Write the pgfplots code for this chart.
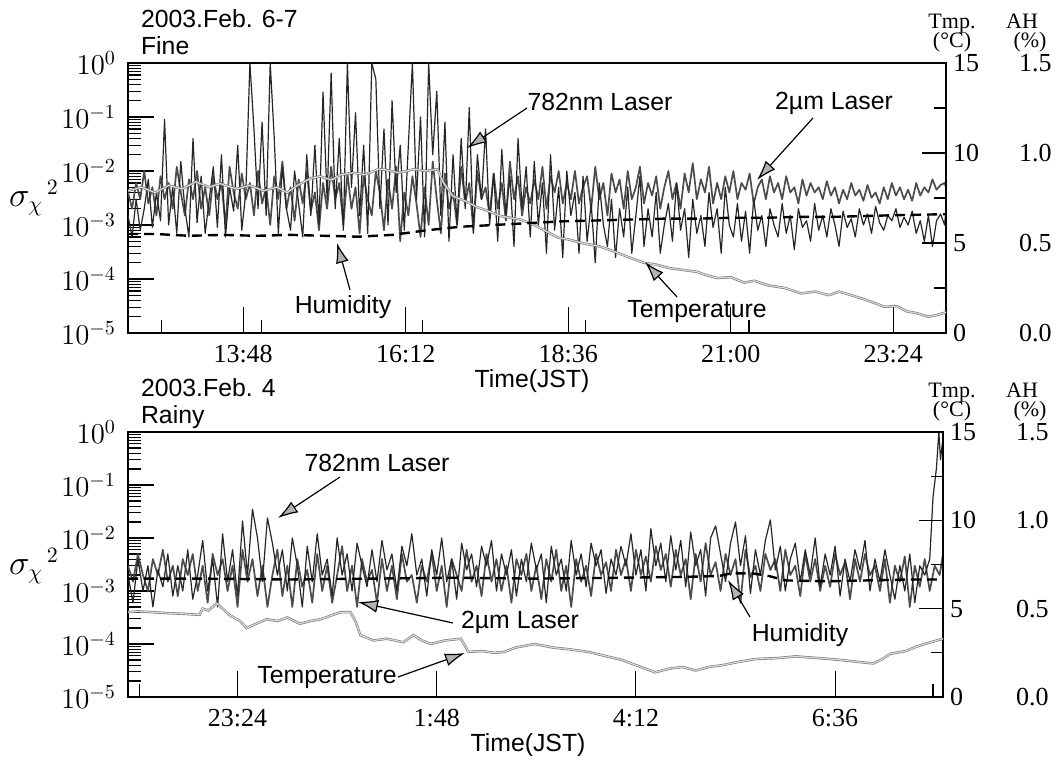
\documentclass[border=0pt]{standalone}
\usepackage{fontspec}
\setmainfont{Liberation Sans}
\newfontfamily\serif{Liberation Serif}
\usepackage{pgfplots}
\pgfplotsset{compat=1.18}
\usetikzlibrary{arrows.meta}

\tikzset{
 lasera/.style={black!85, line width=0.6pt, mark=none, line join=round},
 laserb/.style={black!70, line width=0.85pt, mark=none, line join=round},
 tempst/.style={draw=black!55, line width=0.3pt, double=gray!30, double distance=0.6pt, mark=none},
 humst/.style={black, line width=1.2pt, dash pattern=on 5pt off 3pt, mark=none},
 ann/.style={font=\fontsize{12.4}{12.4}\selectfont},
 hdr/.style={anchor=base, font=\serif\fontsize{11}{11}\selectfont},
 arr/.style={line width=0.6pt, -{Latex[length=10pt,width=6.5pt,fill=gray!60]}}}

\begin{document}
\begin{tikzpicture}
\path[use as bounding box] (0pt,0pt) rectangle (529pt,379.5pt);

%================ TOP PANEL ================
\begin{axis}[at={(64pt,213pt)}, anchor=south west, scale only axis, width=409pt, height=135pt, xmin=12.10, xmax=24.18,
  ymode=log, ymin=1e-5, ymax=1, ytick={1e-5,1e-4,1e-3,1e-2,1e-1,1},
  tick align=inside, xtick pos=bottom, ytick pos=left,
  major tick length=13pt, minor tick length=6.5pt,
  axis line style={line width=0.7pt}, tick style={black,line width=0.55pt},
  yticklabel style={font=\fontsize{14}{14}\selectfont, xshift=-2.5pt},
  xticklabel style={font=\serif\fontsize{13}{13}\selectfont, yshift=-2.5pt},
  xtick={13.8,16.2,18.6,21.0,23.4}, xticklabels={13:48,16:12,18:36,21:00,23:24},
  minor xtick={12.6,14.07,16.45,18.85,21.27}]
% 2 um laser
\addplot[laserb] coordinates {
(12.10,4e-3)(12.16,2e-3)(12.22,6e-3)(12.28,3e-3)(12.34,1e-2)(12.40,2.5e-3)(12.46,5e-3)(12.52,1.5e-3)(12.58,8e-3)(12.64,3e-3)
(12.70,6e-3)(12.76,2e-3)(12.82,1.2e-2)(12.88,4e-3)(12.94,1.5e-3)(13.00,7e-3)(13.06,3e-3)(13.12,1e-2)(13.18,2e-3)(13.24,5e-3)
(13.30,1.5e-3)(13.36,8e-3)(13.42,3e-3)(13.48,6e-3)(13.54,1e-3)(13.60,1.2e-2)(13.66,4e-3)(13.72,2e-3)(13.78,9e-3)(13.84,3e-3)
(13.90,6e-3)(13.96,1.5e-3)(14.02,1e-2)(14.08,2.5e-3)(14.14,5e-3)(14.20,1e-3)(14.26,8e-3)(14.32,3e-3)(14.38,1.5e-2)(14.44,2e-3)
(14.50,5e-3)(14.56,1.2e-3)(14.62,7e-3)(14.68,2.5e-3)(14.74,1e-2)(14.80,1.8e-3)(14.86,4e-3)(14.92,8e-4)(14.98,6e-3)(15.04,2e-3)
(15.10,1.2e-2)(15.16,3e-3)(15.22,6e-3)(15.28,1e-3)(15.34,9e-3)(15.40,2e-3)(15.46,5e-3)(15.52,7e-4)(15.58,8e-3)(15.64,3e-3)
(15.70,1.5e-3)(15.76,1e-2)(15.82,4e-3)(15.88,8e-4)(15.94,7e-3)(16.00,2e-3)(16.06,1.2e-2)(16.12,5e-4)(16.18,4e-3)(16.24,1.5e-3)
(16.30,8e-3)(16.36,2.5e-3)(16.42,6e-4)(16.48,5e-3)(16.54,1e-3)(16.60,1.5e-2)(16.66,3e-3)(16.72,7e-4)(16.78,9e-3)(16.84,2e-3)
(16.90,4e-3)(16.96,1e-3)(17.02,1.2e-2)(17.08,2.5e-3)(17.14,6e-3)(17.20,8e-4)(17.26,1e-2)(17.32,3e-3)(17.38,5e-3)(17.44,1.5e-3)
(17.50,9e-3)(17.56,2e-3)(17.62,6e-3)(17.68,1.2e-3)(17.74,1.5e-2)(17.80,3e-3)(17.86,8e-3)(17.92,1.5e-3)(17.98,5e-3)(18.04,2.5e-3)
(18.10,7e-3)(18.16,3e-3)(18.22,1.2e-2)(18.28,2e-3)(18.34,8e-3)(18.40,4e-3)(18.46,1e-2)(18.52,2.5e-3)(18.58,6e-3)(18.64,3e-3)
(18.70,1e-2)(18.76,2.5e-3)(18.82,5e-3)(18.88,8e-3)(18.94,2e-3)(19.00,1.2e-2)(19.06,3e-3)(19.12,6e-3)(19.18,1.5e-3)(19.24,9e-3)
(19.30,4e-3)(19.36,7e-3)(19.42,2e-3)(19.48,1e-2)(19.54,3e-3)(19.60,5e-3)(19.66,1.2e-2)(19.72,2.5e-3)(19.78,6e-3)(19.84,3.5e-3)
(19.90,8e-3)(19.96,2e-3)(20.02,5e-3)(20.08,1e-2)(20.14,3e-3)(20.20,6e-3)(20.26,2e-3)(20.32,9e-3)(20.38,4e-3)(20.44,1.4e-2)
(20.50,3e-3)(20.56,7e-3)(20.62,4e-3)(20.68,1.2e-2)(20.74,2.5e-3)(20.80,6e-3)(20.86,3e-3)(20.92,8e-3)(20.98,4e-3)(21.04,1e-2)
(21.10,3e-3)(21.16,6e-3)(21.22,4.5e-3)(21.28,9e-3)(21.34,2.5e-3)(21.40,5e-3)(21.46,7e-3)(21.52,3e-3)(21.58,8e-3)(21.64,4e-3)
(21.70,6e-3)(21.76,3e-3)(21.82,8e-3)(21.88,4e-3)(21.94,5e-3)(22.00,2.5e-3)(22.06,7e-3)(22.12,3.5e-3)(22.18,6e-3)(22.24,4e-3)
(22.30,5e-3)(22.36,3e-3)(22.42,6.5e-3)(22.48,3.5e-3)(22.54,5e-3)(22.60,2.5e-3)(22.66,4.5e-3)(22.72,3e-3)(22.78,6e-3)(22.84,3.5e-3)
(22.90,4.5e-3)(22.96,2.8e-3)(23.02,5.5e-3)(23.08,3.2e-3)(23.14,4e-3)(23.20,2.5e-3)(23.26,5e-3)(23.32,3e-3)(23.38,6e-3)(23.44,3.5e-3)
(23.50,5e-3)(23.56,3e-3)(23.62,4.5e-3)(23.68,2.8e-3)(23.74,6e-3)(23.80,3.5e-3)(23.86,5e-3)(23.92,4e-3)(23.98,7e-3)(24.04,4.5e-3)
(24.10,5.5e-3)(24.16,6e-3)(24.18,5e-3)};
% 782 nm laser
\addplot[lasera] coordinates {
(12.10,1.5e-3)(12.16,6e-4)(12.22,3e-3)(12.28,8e-4)(12.34,2e-3)(12.40,7e-3)(12.46,9e-4)(12.52,4e-3)(12.58,1.2e-3)(12.64,9e-2)
(12.70,1e-3)(12.76,5e-3)(12.82,7e-4)(12.88,1.5e-2)(12.94,2e-3)(13.00,6e-4)(13.06,4e-2)(13.12,1.1e-3)(13.18,8e-3)(13.24,7e-4)
(13.30,3e-3)(13.36,1.2e-2)(13.42,9e-4)(13.48,2e-2)(13.54,6e-4)(13.60,5e-3)(13.66,1.8e-3)(13.72,3e-2)(13.78,8e-4)(13.84,4e-3)
(13.90,1)(13.96,6e-2)(14.02,2e-3)(14.08,8e-2)(14.14,1.5e-3)(14.20,1)(14.26,4e-2)(14.32,7e-4)(14.38,1.2e-2)(14.44,2e-3)
(14.50,8e-4)(14.56,1e-2)(14.62,2.5e-3)(14.68,6e-4)(14.74,2e-2)(14.80,1.5e-3)(14.86,3e-2)(14.92,1e-3)(14.98,2.9e-1)(15.04,3e-3)
(15.10,6.5e-1)(15.16,2e-3)(15.22,4e-2)(15.28,8e-4)(15.34,1)(15.40,5e-3)(15.46,1.2e-1)(15.52,1.5e-3)(15.58,3e-2)(15.64,7e-4)
(15.70,1)(15.76,5e-1)(15.82,2e-3)(15.88,6e-2)(15.94,1e-3)(16.00,2e-1)(16.06,4e-3)(16.12,3e-2)(16.18,8e-4)(16.24,3e-2)
(16.30,1)(16.36,3e-3)(16.42,1e-1)(16.48,6e-4)(16.54,1)(16.60,2e-2)(16.66,3e-1)(16.72,1.5e-3)(16.78,8e-2)(16.84,5e-4)
(16.90,2e-2)(16.96,1e-3)(17.02,4e-2)(17.08,2e-3)(17.14,1.5e-1)(17.20,7e-4)(17.26,2e-2)(17.32,3e-3)(17.38,6e-2)(17.44,1e-3)
(17.50,9e-3)(17.56,5e-4)(17.62,2.5e-2)(17.68,1.5e-3)(17.74,8e-3)(17.80,4e-4)(17.86,4e-2)(17.92,2e-3)(17.98,1.2e-2)(18.04,6e-4)
(18.10,1.5e-2)(18.16,1e-3)(18.22,6e-3)(18.28,3e-4)(18.34,2e-2)(18.40,8e-4)(18.46,5e-3)(18.52,2.5e-4)(18.58,1e-2)(18.64,1.5e-3)
(18.70,4e-3)(18.76,3e-4)(18.82,8e-3)(18.88,5e-4)(18.94,2.5e-3)(19.00,2e-4)(19.06,6e-3)(19.12,1e-3)(19.18,4e-4)(19.24,3e-3)
(19.30,2.5e-4)(19.36,2e-3)(19.42,6e-4)(19.48,5e-3)(19.54,3e-4)(19.60,1.5e-3)(19.66,8e-3)(19.72,4e-4)(19.78,2e-3)(19.84,6e-4)
(19.90,4e-3)(19.96,3e-4)(20.02,1e-3)(20.08,2.5e-3)(20.14,5e-4)(20.20,6e-3)(20.26,8e-4)(20.32,2e-3)(20.38,2.5e-4)(20.44,3e-3)
(20.50,7e-4)(20.56,1.5e-3)(20.62,4e-4)(20.68,4e-3)(20.74,9e-4)(20.80,2e-3)(20.86,3e-4)(20.92,5e-3)(20.98,1e-3)(21.04,6e-4)
(21.10,2.5e-3)(21.16,5e-4)(21.22,1.8e-3)(21.28,3e-4)(21.34,3e-3)(21.40,8e-4)(21.46,1.5e-3)(21.52,4e-4)(21.58,2e-3)(21.64,1e-3)
(21.70,6e-4)(21.76,2.5e-3)(21.82,7e-4)(21.88,1.5e-3)(21.94,3.5e-4)(22.00,2e-3)(22.06,9e-4)(22.12,1.2e-3)(22.18,5e-4)(22.24,2.5e-3)
(22.30,8e-4)(22.36,1.5e-3)(22.42,6e-4)(22.48,2e-3)(22.54,1e-3)(22.60,4e-4)(22.66,1.8e-3)(22.72,9e-4)(22.78,1.3e-3)(22.84,6e-4)
(22.90,2e-3)(22.96,1e-3)(23.02,1.6e-3)(23.08,7e-4)(23.14,2.2e-3)(23.20,1.1e-3)(23.26,8e-4)(23.32,1.5e-3)(23.38,1.2e-3)(23.44,2e-3)
(23.50,9e-4)(23.56,1.4e-3)(23.62,1e-3)(23.68,1.8e-3)(23.74,7e-4)(23.80,1.2e-3)(23.86,5e-4)(23.92,1.5e-3)(23.98,4e-4)(24.04,1.2e-3)
(24.10,1.6e-3)(24.16,1e-3)(24.18,2e-3)};
\end{axis}

\begin{axis}[at={(64pt,213pt)}, anchor=south west, scale only axis, width=409pt, height=135pt, xmin=12.10, xmax=24.18,
  ymin=0,ymax=15, axis x line=none, axis y line*=right, ytick={0,5,10,15}, yticklabels={0,5,10,15},
  minor ytick={2.5,7.5,12.5}, tick align=inside, major tick length=12pt, minor tick length=6pt,
  axis line style={line width=0.7pt}, tick style={black,line width=0.55pt},
  yticklabel style={font=\serif\fontsize{13}{13}\selectfont}]
\addplot[tempst] coordinates {
(12.10,7.9)(12.3,8.1)(12.5,7.8)(12.7,8.2)(12.9,8.0)(13.1,8.4)(13.3,8.1)(13.46,8.3)(13.7,8.0)(13.9,8.2)
(14.1,7.9)(14.3,8.1)(14.45,7.8)(14.6,8.2)(14.8,8.6)(14.94,8.7)(15.1,8.5)(15.25,8.8)(15.43,8.9)(15.6,8.8)
(15.8,9.1)(15.93,9.05)(16.1,8.9)(16.32,9.1)(16.5,9.0)(16.67,9.1)(16.75,8.4)(16.9,7.6)(17.1,7.3)(17.25,7.0)
(17.4,6.8)(17.6,6.5)(17.9,6.3)(18.1,6.0)(18.3,5.6)(18.45,5.3)(18.6,5.2)(18.8,5.0)(19.08,4.8)(19.3,4.5)
(19.5,4.2)(19.72,3.9)(19.9,3.8)(20.1,3.6)(20.3,3.5)(20.5,3.4)(20.65,3.2)(20.81,3.05)(21.0,3.1)(21.2,2.8)
(21.35,2.9)(21.55,2.65)(21.8,2.5)(22.04,2.2)(22.25,2.3)(22.45,2.1)(22.6,2.3)(22.78,2.1)(22.95,1.9)(23.1,1.7)
(23.27,1.45)(23.45,1.5)(23.6,1.2)(23.75,1.1)(23.92,0.9)(24.05,1.0)(24.18,1.15)};
\end{axis}

\begin{axis}[at={(64pt,213pt)}, anchor=south west, scale only axis, width=409pt, height=135pt, xmin=12.10, xmax=24.18,
  ymin=0,ymax=1.5, axis x line=none, axis y line*=right, ytick={0,0.5,1,1.5}, yticklabels={0.0,0.5,1.0,1.5},
  major tick length=0pt, axis line style={draw=none}, ytick style={draw=none},
  yticklabel style={font=\serif\fontsize{13}{13}\selectfont, xshift=33pt}]
\addplot[humst] coordinates {
(12.10,0.55)(12.5,0.55)(13.0,0.54)(13.5,0.545)(14.0,0.54)(14.5,0.545)(15.0,0.54)(15.5,0.535)(16.0,0.545)
(16.5,0.57)(17.0,0.59)(17.5,0.60)(18.0,0.61)(18.5,0.62)(19.0,0.625)(19.5,0.63)(20.0,0.635)(20.5,0.635)
(21.0,0.64)(21.5,0.64)(22.0,0.645)(22.5,0.645)(23.0,0.65)(23.5,0.655)(24.18,0.66)};
\end{axis}

%================ BOTTOM PANEL ================
\begin{axis}[at={(64pt,31pt)}, anchor=south west, scale only axis, width=407.5pt, height=132.5pt, xmin=22.08, xmax=31.90,
  ymode=log, ymin=1e-5, ymax=1, ytick={1e-5,1e-4,1e-3,1e-2,1e-1,1},
  tick align=inside, xtick pos=bottom, ytick pos=left,
  major tick length=13pt, minor tick length=6.5pt,
  axis line style={line width=0.7pt}, tick style={black,line width=0.55pt},
  yticklabel style={font=\fontsize{14}{14}\selectfont, xshift=-2.5pt},
  xticklabel style={font=\serif\fontsize{13}{13}\selectfont, yshift=-2.5pt},
  xtick={23.4,25.8,28.2,30.6}, xticklabels={23:24,1:48,4:12,6:36},
  minor xtick={22.22,31.78}]
% 2 um laser
\addplot[laserb] coordinates {
(22.08,3e-3)(22.14,1.5e-3)(22.20,5e-3)(22.26,2e-3)(22.32,1e-3)(22.38,4e-3)(22.44,2e-3)(22.50,6e-3)(22.56,1.5e-3)(22.62,3e-3)
(22.68,8e-4)(22.74,4e-3)(22.80,2e-3)(22.86,5e-3)(22.92,1e-3)(22.98,3e-3)(23.04,6e-4)(23.10,5e-3)(23.16,2e-3)(23.22,4e-3)
(23.28,1e-3)(23.34,3e-3)(23.40,5e-4)(23.46,6e-3)(23.52,1.5e-3)(23.58,4e-3)(23.64,8e-4)(23.70,3e-3)(23.76,5e-4)(23.82,2e-3)
(23.88,6e-3)(23.94,8e-4)(24.00,3e-3)(24.06,5e-4)(24.12,4e-3)(24.18,1.2e-3)(24.24,2.5e-3)(24.30,6e-4)(24.36,5e-3)(24.42,1e-3)
(24.48,3e-3)(24.54,6e-4)(24.60,2e-3)(24.66,7e-3)(24.72,1e-3)(24.78,3e-3)(24.84,5e-4)(24.90,4e-3)(24.96,1.5e-3)(25.02,2.5e-3)
(25.08,6e-4)(25.14,4e-3)(25.20,1e-3)(25.26,3e-3)(25.32,7e-4)(25.38,5e-3)(25.44,1.5e-3)(25.50,2e-3)(25.56,6e-4)(25.62,3e-3)
(25.68,1.5e-3)(25.74,5e-3)(25.80,1e-3)(25.86,3e-3)(25.92,5e-4)(25.98,4e-3)(26.04,2e-3)(26.10,1e-3)(26.16,6e-3)(26.22,1.5e-3)
(26.28,3e-3)(26.34,8e-4)(26.40,5e-3)(26.46,1.5e-3)(26.52,4e-3)(26.58,1e-3)(26.64,3e-3)(26.70,6e-4)(26.76,4e-3)(26.82,2e-3)
(26.88,5e-3)(26.94,1e-3)(27.00,3e-3)(27.06,7e-4)(27.12,4e-3)(27.18,1.5e-3)(27.24,6e-3)(27.30,1e-3)(27.36,3e-3)(27.42,5e-4)
(27.48,4e-3)(27.54,1.5e-3)(27.60,3e-3)(27.66,8e-4)(27.72,5e-3)(27.78,2e-3)(27.84,3.5e-3)(27.90,1e-3)(27.96,6e-3)(28.02,2e-3)
(28.08,4e-3)(28.14,1e-3)(28.20,6e-3)(28.26,2e-3)(28.32,4.5e-3)(28.38,1.5e-3)(28.44,7e-3)(28.50,2.5e-3)(28.56,5e-3)(28.62,1.2e-3)
(28.68,6e-3)(28.74,2e-3)(28.80,4e-3)(28.86,7e-4)(28.92,5e-3)(28.98,1.5e-3)(29.04,8e-3)(29.10,2e-3)(29.16,3.5e-3)(29.22,1e-3)
(29.28,5e-3)(29.34,2e-3)(29.40,4e-3)(29.46,6e-4)(29.52,6e-3)(29.58,1.8e-3)(29.64,3e-3)(29.70,1e-3)(29.76,5e-3)(29.82,2.5e-3)
(29.88,4e-3)(29.94,1e-3)(30.00,6e-3)(30.06,2e-3)(30.12,3e-3)(30.18,8e-4)(30.24,5e-3)(30.30,1.5e-3)(30.36,4e-3)(30.42,1e-3)
(30.48,3e-3)(30.54,1.2e-3)(30.60,5e-3)(30.66,2e-3)(30.72,3.5e-3)(30.78,7e-4)(30.84,4e-3)(30.90,1.5e-3)(30.96,5e-3)(31.02,2e-3)
(31.08,3e-3)(31.14,1e-3)(31.20,4e-3)(31.26,6e-4)(31.32,3e-3)(31.38,1.5e-3)(31.44,4.5e-3)(31.50,5e-4)(31.56,3e-3)(31.62,1.2e-3)
(31.68,4e-3)(31.74,1e-3)(31.80,3e-3)(31.86,2e-3)(31.90,5e-3)};
% 782 nm laser
\addplot[lasera] coordinates {
(22.08,2e-3)(22.14,6e-4)(22.20,4e-3)(22.26,1e-3)(22.32,3e-3)(22.38,5e-4)(22.44,2.5e-3)(22.50,1.2e-3)(22.56,5e-3)(22.62,8e-4)
(22.68,3e-3)(22.74,1e-3)(22.80,6e-3)(22.86,7e-4)(22.92,2e-3)(22.98,9e-3)(23.04,1e-3)(23.10,4e-3)(23.16,5e-4)(23.22,1.2e-2)
(23.28,1.5e-3)(23.34,6e-3)(23.40,8e-4)(23.46,2.1e-2)(23.52,2e-3)(23.58,3.5e-2)(23.64,1e-2)(23.70,1.5e-3)(23.76,2.4e-2)(23.82,8e-3)
(23.88,2e-3)(23.94,6e-3)(24.00,1e-3)(24.06,1e-2)(24.12,3e-3)(24.18,5e-4)(24.24,7e-3)(24.30,1.5e-3)(24.36,1.2e-2)(24.42,2e-3)
(24.48,4e-3)(24.54,8e-4)(24.60,1e-2)(24.66,2e-3)(24.72,5e-3)(24.78,1e-3)(24.84,8e-3)(24.90,3e-3)(24.96,1.2e-3)(25.02,6e-3)
(25.08,1.5e-3)(25.14,9e-3)(25.20,2.5e-3)(25.26,5e-3)(25.32,1e-3)(25.38,7e-3)(25.44,3e-3)(25.50,1.2e-2)(25.56,2e-3)(25.62,4e-3)
(25.68,8e-4)(25.74,6e-3)(25.80,2e-3)(25.86,1e-2)(25.92,1.5e-3)(25.98,4e-3)(26.04,7e-4)(26.10,8e-3)(26.16,2.5e-3)(26.22,5e-3)
(26.28,1.2e-3)(26.34,7e-3)(26.40,3e-3)(26.46,9e-3)(26.52,1e-3)(26.58,5e-3)(26.64,2e-3)(26.70,6e-3)(26.76,8e-4)(26.82,4e-3)
(26.88,1.5e-3)(26.94,8e-3)(27.00,2.5e-3)(27.06,5e-3)(27.12,6e-4)(27.18,7e-3)(27.24,2e-3)(27.30,4e-3)(27.36,1e-3)(27.42,9e-3)
(27.48,2e-3)(27.54,5e-3)(27.60,1.2e-3)(27.66,8e-3)(27.72,3e-3)(27.78,6e-3)(27.84,9e-4)(27.90,4e-3)(27.96,2e-3)(28.02,7e-3)
(28.08,3e-3)(28.14,1.2e-2)(28.20,2e-3)(28.26,6e-3)(28.32,1e-3)(28.38,1.5e-2)(28.44,3e-3)(28.50,8e-3)(28.56,1.5e-3)(28.62,1.1e-2)
(28.68,2.5e-3)(28.74,9e-3)(28.80,1.2e-3)(28.86,1.3e-2)(28.92,3e-3)(28.98,6e-3)(29.04,8e-4)(29.10,1e-2)(29.16,1.7e-2)(29.22,5e-3)
(29.28,1.5e-3)(29.34,8e-3)(29.40,2e-2)(29.46,3e-3)(29.52,1.1e-2)(29.58,9e-4)(29.64,6e-3)(29.70,2e-3)(29.76,9e-3)(29.82,2.2e-2)
(29.88,2.5e-3)(29.94,7e-3)(30.00,1e-3)(30.06,4e-3)(30.12,8e-3)(30.18,1.5e-3)(30.24,6e-3)(30.30,2e-3)(30.36,1e-2)(30.42,1.2e-3)
(30.48,5e-3)(30.54,2e-3)(30.60,7e-3)(30.66,8e-4)(30.72,4e-3)(30.78,1.5e-3)(30.84,6e-3)(30.90,2.5e-3)(30.96,9e-3)(31.02,1e-3)
(31.08,4e-3)(31.14,1.5e-3)(31.20,6e-3)(31.26,2e-3)(31.32,7e-4)(31.38,3e-3)(31.44,1e-3)(31.50,5e-3)(31.56,6e-4)(31.62,3e-3)
(31.68,2e-3)(31.74,4e-3)(31.78,6e-2)(31.82,2e-1)(31.85,1)(31.87,3e-1)(31.90,8e-1)};
\end{axis}

\begin{axis}[at={(64pt,31pt)}, anchor=south west, scale only axis, width=407.5pt, height=132.5pt, xmin=22.08, xmax=31.90,
  ymin=0,ymax=15, axis x line=none, axis y line*=right, ytick={0,5,10,15}, yticklabels={0,5,10,15},
  minor ytick={2.5,7.5,12.5}, tick align=inside, major tick length=12pt, minor tick length=6pt,
  axis line style={line width=0.7pt}, tick style={black,line width=0.55pt},
  yticklabel style={font=\serif\fontsize{13}{13}\selectfont}]
\addplot[tempst] coordinates {
(22.08,4.8)(22.2,4.85)(22.37,4.8)(22.55,4.75)(22.78,4.7)(22.94,4.65)(22.98,5.0)(23.05,4.9)(23.15,5.3)(23.22,5.0)
(23.3,4.65)(23.43,4.3)(23.51,3.9)(23.6,4.1)(23.75,4.4)(23.88,4.3)(24.0,4.5)(24.15,4.15)(24.28,4.3)(24.4,4.4)
(24.52,4.6)(24.64,4.8)(24.76,4.8)(24.82,4.3)(24.88,3.5)(25.04,3.2)(25.2,3.3)(25.4,3.1)(25.52,3.5)(25.62,3.2)
(25.73,3.0)(25.9,3.2)(26.09,3.3)(26.14,2.9)(26.18,2.55)(26.35,2.6)(26.5,2.5)(26.61,2.55)(26.75,2.8)(26.98,3.0)
(27.2,2.8)(27.4,2.7)(27.63,2.55)(27.85,2.3)(28.03,2.1)(28.2,1.8)(28.43,1.4)(28.6,1.6)(28.76,1.7)(28.92,1.5)
(29.08,1.7)(29.24,1.8)(29.45,2.0)(29.64,2.15)(29.9,2.2)(30.13,2.3)(30.4,2.2)(30.66,2.1)(30.85,2.0)(31.06,1.9)
(31.15,2.1)(31.27,2.45)(31.45,2.6)(31.58,2.85)(31.75,3.1)(31.90,3.3)};
\end{axis}

\begin{axis}[at={(64pt,31pt)}, anchor=south west, scale only axis, width=407.5pt, height=132.5pt, xmin=22.08, xmax=31.90,
  ymin=0,ymax=1.5, axis x line=none, axis y line*=right, ytick={0,0.5,1,1.5}, yticklabels={0.0,0.5,1.0,1.5},
  major tick length=0pt, axis line style={draw=none}, ytick style={draw=none},
  yticklabel style={font=\serif\fontsize{13}{13}\selectfont, xshift=33pt}]
\addplot[humst] coordinates {
(22.08,0.67)(23.0,0.67)(24.0,0.665)(25.0,0.67)(26.0,0.675)(27.0,0.67)(28.0,0.675)(28.8,0.68)(29.2,0.685)
(29.35,0.70)(29.6,0.70)(29.8,0.685)(30.0,0.66)(30.5,0.655)(31.0,0.66)(31.5,0.665)(31.90,0.665)};
\end{axis}

%================ TEXT ================
\node[anchor=base west, ann] at (67pt,365.5pt) {2003.Feb. 6-7};
\node[anchor=base west, ann] at (67pt,352pt) {Fine};
\node[anchor=base west, ann] at (67pt,181pt) {2003.Feb. 4};
\node[anchor=base west, ann] at (67pt,167.5pt) {Rainy};
\node[ann] at (266pt,189pt) {Time(JST)};
\node[ann] at (264pt,7pt) {Time(JST)};
\node[font=\fontsize{16}{16}\selectfont] at (17pt,280.5pt) {$\sigma_{\chi}{}^{\,2}$};
\node[font=\fontsize{16}{16}\selectfont] at (17pt,96.5pt) {$\sigma_{\chi}{}^{\,2}$};
\node[hdr] at (476pt,365pt) {Tmp.};
\node[hdr] at (476pt,355.5pt) {(°C)};
\node[hdr] at (511pt,365pt) {AH};
\node[hdr] at (515pt,355.5pt) {(\%)};
\node[hdr] at (476pt,180.5pt) {Tmp.};
\node[hdr] at (476pt,171pt) {(°C)};
\node[hdr] at (511pt,180.5pt) {AH};
\node[hdr] at (515pt,171pt) {(\%)};
\node[ann] at (300pt,328.5pt) {782nm Laser};
\draw[arr] (263.5pt,325.5pt) -- (233.5pt,305.5pt);
\node[ann] at (417pt,328pt) {2µm Laser};
\draw[arr] (406.5pt,320.5pt) -- (378.5pt,289.5pt);
\node[ann] at (348.5pt,223.5pt) {Temperature};
\draw[arr] (338.5pt,231pt) -- (322.5pt,248.5pt);
\node[ann] at (171.5pt,226pt) {Humidity};
\draw[arr] (175pt,234.5pt) -- (168.5pt,258pt);
\node[ann] at (188.5pt,148pt) {782nm Laser};
\draw[arr] (170pt,141pt) -- (139pt,120.5pt);
\node[ann] at (260pt,68.5pt) {2µm Laser};
\draw[arr] (226.5pt,68pt) -- (179pt,78.5pt);
\node[ann] at (400pt,62pt) {Humidity};
\draw[arr] (375pt,71pt) -- (364pt,89.5pt);
\node[ann] at (163.5pt,40.5pt) {Temperature};
\draw[arr] (199pt,41pt) -- (232.5pt,53pt);
\end{tikzpicture}
\end{document}
